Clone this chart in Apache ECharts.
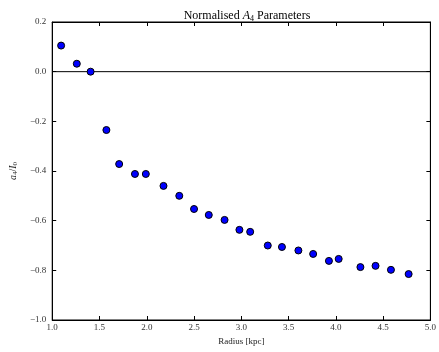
<!DOCTYPE html>
<html><head><meta charset="utf-8">
<script src="https://cdn.jsdelivr.net/npm/echarts@6/dist/echarts.min.js"></script>
<style>html,body{margin:0;padding:0;background:#fff}#c{width:439px;height:352px}</style>
</head><body><div id="c"></div>
<script>
const radius = [1.094,1.26,1.406,1.573,1.708,1.875,1.99,2.177,2.344,2.50,2.656,2.823,2.98,3.094,3.28,3.43,3.604,3.76,3.927,4.03,4.26,4.42,4.583,4.77];
const a4 = [0.105,0.032,0.0,-0.235,-0.372,-0.412,-0.412,-0.46,-0.50,-0.553,-0.577,-0.597,-0.637,-0.645,-0.70,-0.706,-0.72,-0.734,-0.762,-0.754,-0.787,-0.782,-0.798,-0.815];
const xTicks = [1.0,1.5,2.0,2.5,3.0,3.5,4.0,4.5,5.0];
const yTicks = [-1.0,-0.8,-0.6,-0.4,-0.2,0.0,0.2];

const FONT = '"Liberation Serif", "DejaVu Serif", serif';
const fmt = v => (v < 0 ? '\u2212' : '') + Math.abs(v).toFixed(1);
const chart = echarts.init(document.getElementById('c'), null, {renderer:'canvas'});
const axisCommon = () => ({
  axisLine:{show:true,onZero:false,lineStyle:{color:'#000',width:1}},
  axisTick:{show:true,inside:true,length:4,lineStyle:{color:'#000'}},
  splitLine:{show:false}
});
chart.setOption({
  animation:false,
  title:{
    text:'{n|Normalised }{i|A}{s|4}{n| Parameters}',
    left:242, top:4, textAlign:'center',
    textStyle:{fontWeight:'normal',rich:{
      n:{fontFamily:FONT,fontSize:12,fontWeight:'normal',color:'#000'},
      i:{fontFamily:FONT,fontSize:12,fontWeight:'normal',fontStyle:'italic',color:'#000'},
      s:{fontFamily:FONT,fontSize:8,fontWeight:'normal',color:'#000',verticalAlign:'bottom',padding:[6,0,0,0]}
    }}
  },
  grid:{left:50,right:5,top:22,bottom:32,show:true,borderColor:'#000',borderWidth:1},
  xAxis:[
    Object.assign(axisCommon(),{type:'value',min:1,max:5,interval:0.5,position:'bottom',
      name:'Radius [kpc]',nameLocation:'middle',nameGap:14,
      nameTextStyle:{fontFamily:FONT,fontSize:9,color:'#222'},
      axisLabel:{fontFamily:FONT,fontSize:9,color:'#333',margin:3,formatter:v=>fmt(v)}}),
    Object.assign(axisCommon(),{type:'value',min:1,max:5,interval:0.5,position:'top',axisLabel:{show:false}})
  ],
  yAxis:[
    Object.assign(axisCommon(),{type:'value',min:-1,max:0.2,interval:0.2,position:'left',
      name:'{i|a}{s|4}{n|/}{i|I}{s|0}',nameLocation:'middle',nameGap:30,
      nameTextStyle:{rich:{
        i:{fontFamily:FONT,fontSize:10,fontStyle:'italic',color:'#222'},
        n:{fontFamily:FONT,fontSize:10,color:'#222'},
        s:{fontFamily:FONT,fontSize:7,color:'#222',verticalAlign:'bottom',padding:[5,0,0,0]}
      }},
      axisLabel:{fontFamily:FONT,fontSize:9,color:'#333',margin:6,formatter:v=>fmt(v)}}),
    Object.assign(axisCommon(),{type:'value',min:-1,max:0.2,interval:0.2,position:'right',axisLabel:{show:false}})
  ],
  series:[
    {type:'line',data:[[1,0],[5,0]],xAxisIndex:0,yAxisIndex:0,symbol:'none',
     lineStyle:{color:'#000',width:1},silent:true,z:1},
    {type:'scatter',data:radius.map((r,i)=>[r,a4[i]]),xAxisIndex:0,yAxisIndex:0,
     symbol:'circle',symbolSize:7,
     itemStyle:{color:'#0000ff',borderColor:'#000',borderWidth:1,opacity:1},z:3}
  ]
});
</script></body></html>
